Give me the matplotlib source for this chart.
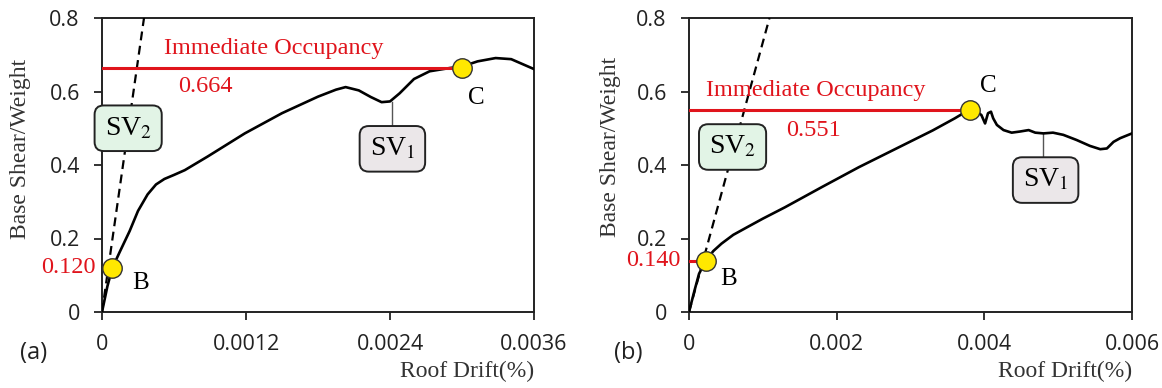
import matplotlib.pyplot as plt

# Pushover curves
drift_a = [0, 0.000045, 0.000086, 0.00015, 0.00023, 0.0003, 0.00038, 0.00045, 0.00052, 0.0006, 0.00069,
           0.00088, 0.00119, 0.0015, 0.0018, 0.00195, 0.00203, 0.00214, 0.00224, 0.00233, 0.0024,
           0.00248, 0.0026, 0.00273, 0.0029, 0.003, 0.00313, 0.00328, 0.00341, 0.0036]
shear_a = [0, 0.07, 0.12, 0.165, 0.22, 0.275, 0.32, 0.347, 0.362, 0.373, 0.386,
           0.423, 0.486, 0.541, 0.586, 0.605, 0.612, 0.603, 0.585, 0.571, 0.573,
           0.595, 0.634, 0.655, 0.664, 0.668, 0.682, 0.691, 0.688, 0.661]

drift_b = [0, 0.00007, 0.000136, 0.000227, 0.00033, 0.00044, 0.0006, 0.00079, 0.001, 0.0013, 0.0018,
           0.0023, 0.0028, 0.0033, 0.0036, 0.0038, 0.0039, 0.00396, 0.00401, 0.00405, 0.00409,
           0.00412, 0.00417, 0.00426, 0.00437, 0.00448, 0.0046, 0.00469, 0.0048, 0.00493, 0.00507,
           0.00525, 0.00543, 0.00557, 0.00566, 0.00575, 0.00584, 0.006]
shear_b = [0, 0.055, 0.104, 0.14, 0.166, 0.186, 0.21, 0.231, 0.254, 0.285, 0.34,
           0.394, 0.444, 0.494, 0.527, 0.551, 0.545, 0.536, 0.513, 0.541, 0.545,
           0.527, 0.509, 0.495, 0.488, 0.491, 0.495, 0.488, 0.486, 0.488, 0.482,
           0.468, 0.452, 0.443, 0.445, 0.463, 0.473, 0.486]

# initial stiffness lines (end points)
sv2_a = ([0, 0.00035], [0, 0.8])
sv2_b = ([0, 0.00109], [0, 0.8])

point_b_a, point_c_a = (0.000086, 0.120), (0.0030, 0.664)
point_b_b, point_c_b = (0.000227, 0.140), (0.0038, 0.551)

xticks_a = [0, 0.0012, 0.0024, 0.0036]
xticks_b = [0, 0.002, 0.004, 0.006]
yticks = [0, 0.2, 0.4, 0.6, 0.8]
ytick_labels = ['0', '0.2', '0.4', '0.6', '0.8']

red = '#e0141c'
serif = 'Liberation Serif'
plt.rcParams['mathtext.fontset'] = 'stix'
plt.rcParams['font.family'] = 'Open Sans'

fig = plt.figure(figsize=(11.62, 3.88), dpi=100)
W, H = 1162, 388
ax_a = fig.add_axes([102 / W, 1 - 312 / H, 432 / W, 294 / H])
ax_b = fig.add_axes([689 / W, 1 - 312 / H, 443 / W, 294 / H])


def setup(ax, xticks, xmax):
    ax.set_xlim(0, xmax)
    ax.set_ylim(0, 0.8)
    ax.set_xticks(xticks)
    ax.set_xticklabels([('%g' % t) if t else '0' for t in xticks])
    ax.set_yticks(yticks)
    ax.set_yticklabels(ytick_labels)
    ax.tick_params(direction='out', length=6, width=1.3, labelsize=15.5, pad=10, colors='#222222')
    for s in ax.spines.values():
        s.set_linewidth(1.4)
        s.set_color('#222222')
    ax.set_ylabel('Base Shear/Weight', family=serif, fontsize=17, color='#333333')
    ax.set_xlabel('Roof Drift(%)', family=serif, fontsize=17, color='#333333', loc='right')
    ax.xaxis.set_label_coords(1.0, -0.165)


def sv_box(ax, x, y, txt, fc, line_from=None):
    if line_from is not None:
        ax.plot([line_from[0], line_from[0]], [line_from[1], y], color='#555555', lw=1, zorder=2)
    ax.text(x, y, txt, fontsize=20, family=serif, ha='center', va='center', zorder=5,
            bbox=dict(boxstyle='round,pad=0.36,rounding_size=0.33', fc=fc, ec='#222222', lw=1.4))


# ---------------- (a)
ax = ax_a
setup(ax, xticks_a, 0.0036)
ax.plot(sv2_a[0], sv2_a[1], color='black', ls=(0, (4, 2.5)), lw=1.6, zorder=3)
ax.plot(drift_a, shear_a, color='black', lw=1.9, zorder=3)
ax.plot([0, point_c_a[0]], [point_c_a[1], point_c_a[1]], color=red, lw=2.2, zorder=3)
ax.plot(*point_b_a, 'o', ms=14, mfc='#ffe800', mec='#333333', mew=1, zorder=6, clip_on=False)
ax.plot(*point_c_a, 'o', ms=14, mfc='#ffe800', mec='#333333', mew=1, zorder=6, clip_on=False)
ax.text(0.00143, 0.718, 'Immediate Occupancy', color=red, family=serif, fontsize=17.5, ha='center', va='center')
ax.text(0.00086, 0.613, '0.664', color=red, family=serif, fontsize=17.5, ha='center', va='center')
ax.text(-0.00005, 0.120, '0.120', color=red, family=serif, fontsize=17.5, ha='right', va='center')
ax.text(0.00032, 0.08, 'B', family=serif, fontsize=18, ha='center', va='center')
ax.text(0.00312, 0.583, 'C', family=serif, fontsize=18, ha='center', va='center')
sv_box(ax, 0.000218, 0.5, r'SV$_2$', '#e2f4e6')
sv_box(ax, 0.00242, 0.444, r'SV$_1$', '#ebe7e9', line_from=(0.00242, 0.571))
ax.yaxis.set_label_coords(-0.165, 0.554)
fig.text(34 / W, 1 - 353 / H, '(a)', fontsize=17, ha='center', va='center', color='#222222')

# ---------------- (b)
ax = ax_b
setup(ax, xticks_b, 0.006)
ax.plot(sv2_b[0], sv2_b[1], color='black', ls=(0, (4, 2.5)), lw=1.6, zorder=3)
ax.plot(drift_b, shear_b, color='black', lw=1.9, zorder=3)
ax.plot([0, point_c_b[0]], [point_c_b[1], point_c_b[1]], color=red, lw=2.2, zorder=3)
ax.plot([0, point_b_b[0]], [point_b_b[1], point_b_b[1]], color=red, lw=2.2, zorder=3)
ax.plot(*point_b_b, 'o', ms=14, mfc='#ffe800', mec='#333333', mew=1, zorder=6, clip_on=False)
ax.plot(*point_c_b, 'o', ms=14, mfc='#ffe800', mec='#333333', mew=1, zorder=6, clip_on=False)
ax.text(0.00171, 0.604, 'Immediate Occupancy', color=red, family=serif, fontsize=17.5, ha='center', va='center')
ax.text(0.00168, 0.493, '0.551', color=red, family=serif, fontsize=17.5, ha='center', va='center')
ax.text(-0.00011, 0.14, '0.140', color=red, family=serif, fontsize=17.5, ha='right', va='center')
ax.text(0.00054, 0.09, 'B', family=serif, fontsize=18, ha='center', va='center')
ax.text(0.00406, 0.614, 'C', family=serif, fontsize=18, ha='center', va='center')
sv_box(ax, 0.00059, 0.449, r'SV$_2$', '#e2f4e6')
sv_box(ax, 0.00483, 0.359, r'SV$_1$', '#ebe7e9', line_from=(0.00479, 0.486))
ax.yaxis.set_label_coords(-0.153, 0.56)
fig.text(628 / W, 1 - 353 / H, '(b)', fontsize=17, ha='center', va='center', color='#222222')

fig.savefig('out.png', dpi=100)
